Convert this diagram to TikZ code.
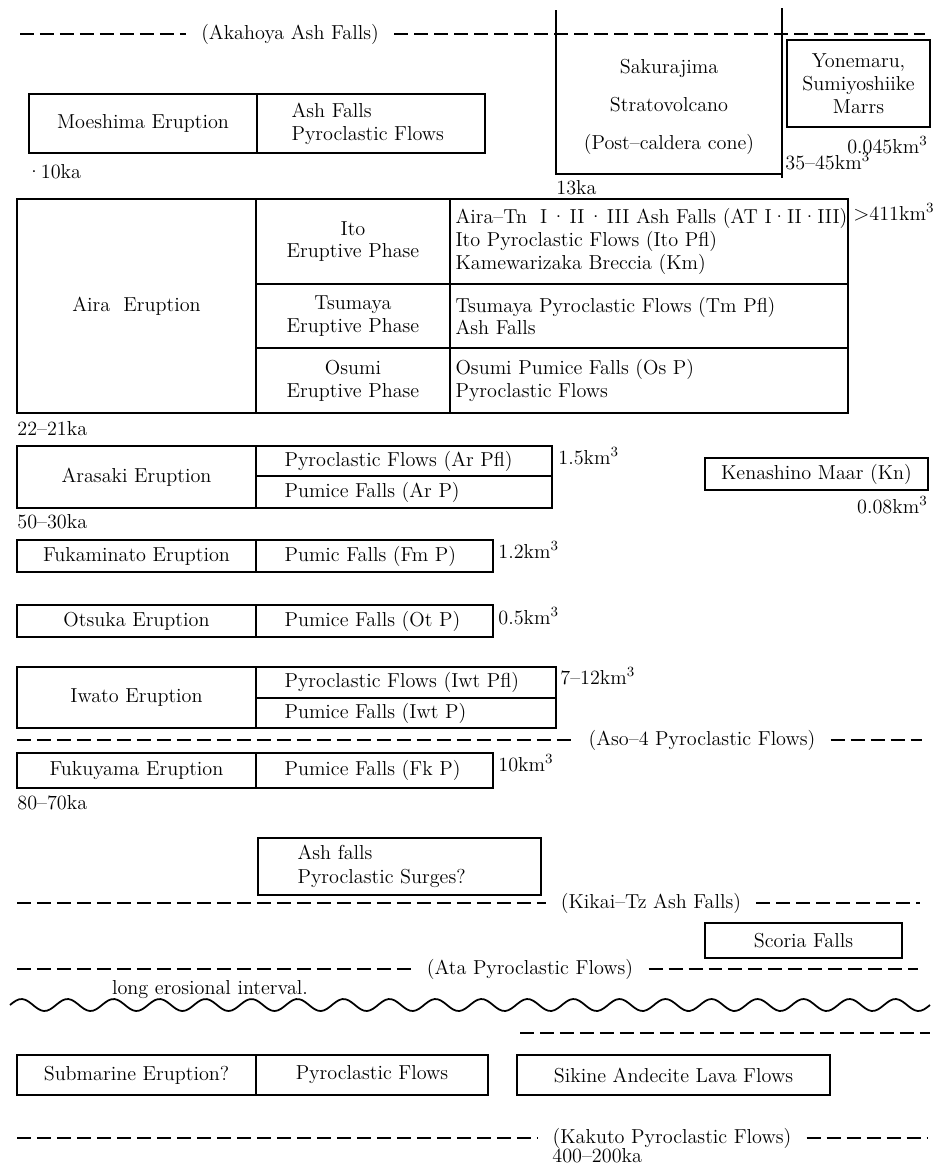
\documentclass[tikz,border=0pt]{standalone}
\usetikzlibrary{positioning,fit}
\tikzset{
  cellbox/.style={draw, line width=0.9pt, inner sep=0pt},
  celltext/.style={align=center, inner sep=0pt},
  deptext/.style={inner sep=0pt, align=left, anchor=west},
  ashline/.style={dash pattern=on 0.28cm off 0.12cm, line width=1pt},
  ashlabel/.style={inner xsep=0.3cm},
  marker/.style={inner sep=0pt},
}
\newcommand{\ndot}{\hspace{2pt}\textperiodcentered\hspace{2pt}}
\begin{document}
\begin{tikzpicture}[x=0.02cm, y=-0.02cm, every node/.style={font=\fontsize{11.5}{13}\selectfont}]
    \useasboundingbox (0,0) rectangle (938,1173);

    % Akahoya
    \node[ashlabel] (aka) at (290,34) {(Akahoya Ash Falls)};
    \draw[ashline] (20,34) -- (aka.west);
    \draw[ashline] (aka.east) -- (925,34);

    % Sakurajima
    \draw[line width=0.9pt] (556,10) -- (556,174) -- (782,174);
    \draw[line width=0.9pt] (782,8) -- (782,178);
    \node[align=center] (sak) at (669,107) {Sakurajima\\[8.5pt]Stratovolcano\\[8.5pt](Post--caldera cone)};
    \node[marker, anchor=west] (t13) at (556,188) {13ka};
    \node[marker, anchor=west] (vsak) at (785,161) {35--45km$^3$};

    % Yonemaru
    \node[cellbox, fit={(787,40) (930,127)}, label={[celltext]center:{Yonemaru,\\Sumiyoshiike\\Marrs}}] (yon) {};
    \node[marker, anchor=east] (vyon) at (928,145) {0.045km$^3$};

    % Moeshima
    \node[cellbox, fit={(29,94) (257,153)}, label={[celltext]center:Moeshima Eruption}] (moe) {};
    \node[cellbox, fit={(257,94) (485,153)}] (moedep) {};
    \node[deptext, right=0.7cm of moedep.west] {Ash Falls\\Pyroclastic Flows};
    \node[marker, anchor=west] (t10) at (26,172) {\textperiodcentered\kern-0.5pt10ka};

    % Aira
    \node[cellbox, fit={(17,199) (256,413)}, label={[celltext]center:Aira\ \ Eruption}] (aira) {};
    \node[cellbox, fit={(256,199) (450,284)}, label={[celltext]center:{Ito\\Eruptive Phase}}] (ito) {};
    \node[cellbox, fit={(450,199) (848,284)}] (itodep) {};
    \node[deptext, right=0.12cm of itodep.west] {Aira--Tn\ \ I\ndot II\ndot III Ash Falls (AT I\textperiodcentered II\textperiodcentered III)\\Ito Pyroclastic Flows (Ito Pfl)\\Kamewarizaka Breccia (Km)};
    \node[cellbox, fit={(256,284) (450,348)}, label={[celltext]center:{Tsumaya\\Eruptive Phase}}] (tsu) {};
    \node[cellbox, fit={(450,284) (848,348)}] (tsudep) {};
    \node[deptext, right=0.12cm of tsudep.west] {Tsumaya Pyroclastic Flows (Tm Pfl)\\Ash Falls};
    \node[cellbox, fit={(256,348) (450,413)}, label={[celltext]center:{Osumi\\Eruptive Phase}}] (osu) {};
    \node[cellbox, fit={(450,348) (848,413)}] (osudep) {};
    \node[deptext, right=0.12cm of osudep.west] {Osumi Pumice Falls (Os P)\\Pyroclastic Flows};
    \node[marker, anchor=west] (vaira) at (853,212) {$>$411km$^3$};
    \node[marker, anchor=west] (t22) at (17,429) {22--21ka};

    % Arasaki
    \node[cellbox, fit={(17,446) (256,508)}, label={[celltext]center:Arasaki Eruption}] (ara) {};
    \node[cellbox, fit={(256,446) (552,476)}] (arapfl) {};
    \node[cellbox, fit={(256,476) (552,508)}] (arap) {};
    \node[deptext, right=0.58cm of arapfl.west] {Pyroclastic Flows (Ar Pfl)};
    \node[deptext, right=0.58cm of arap.west] {Pumice Falls (Ar P)};
    \node[marker, anchor=west] (vara) at (558,456) {1.5km$^3$};
    \node[marker, anchor=west] (t50) at (17,522) {50--30ka};

    % Kenashino
    \node[cellbox, fit={(705,458) (928,490)}, label={[celltext]center:Kenashino Maar (Kn)}] (ken) {};
    \node[marker, anchor=east] (vken) at (928,505) {0.08km$^3$};

    % Fukaminato
    \node[cellbox, fit={(17,540) (256,572)}, label={[celltext]center:Fukaminato Eruption}] (fuka) {};
    \node[cellbox, fit={(256,540) (493,572)}] (fukap) {};
    \node[deptext, right=0.58cm of fukap.west] {Pumic Falls (Fm P)};
    \node[marker, anchor=west] (vfuka) at (498,550) {1.2km$^3$};

    % Otsuka
    \node[cellbox, fit={(17,605) (256,637)}, label={[celltext]center:Otsuka Eruption}] (ots) {};
    \node[cellbox, fit={(256,605) (493,637)}] (otsp) {};
    \node[deptext, right=0.58cm of otsp.west] {Pumice Falls (Ot P)};
    \node[marker, anchor=west] (vots) at (498,616) {0.5km$^3$};

    % Iwato
    \node[cellbox, fit={(17,667) (256,728)}, label={[celltext]center:Iwato Eruption}] (iwa) {};
    \node[cellbox, fit={(256,667) (556,698)}] (iwapfl) {};
    \node[cellbox, fit={(256,698) (556,728)}] (iwap) {};
    \node[deptext, right=0.58cm of iwapfl.west] {Pyroclastic Flows (Iwt Pfl)};
    \node[deptext, right=0.58cm of iwap.west] {Pumice Falls (Iwt P)};
    \node[marker, anchor=west] (viwa) at (560,676) {7--12km$^3$};

    % Aso-4
    \node[ashlabel] (aso) at (702,740) {(Aso--4 Pyroclastic Flows)};
    \draw[ashline] (17,740) -- (aso.west);
    \draw[ashline] (aso.east) -- (922,740);

    % Fukuyama
    \node[cellbox, fit={(17,753) (256,788)}, label={[celltext]center:Fukuyama Eruption}] (fuku) {};
    \node[cellbox, fit={(256,753) (493,788)}] (fukup) {};
    \node[deptext, right=0.58cm of fukup.west] {Pumice Falls (Fk P)};
    \node[marker, anchor=west] (vfuku) at (498,763) {10km$^3$};
    \node[marker, anchor=west] (t80) at (17,803) {80--70ka};

    % Ash falls, surges
    \node[cellbox, fit={(258,838) (541,895)}] (surge) {};
    \node[deptext, right=0.8cm of surge.west] {Ash falls\\[1pt]Pyroclastic Surges?};

    % Kikai-Tz
    \node[ashlabel] (kik) at (651,903) {(Kikai--Tz Ash Falls)};
    \draw[ashline] (17,903) -- (kik.west);
    \draw[ashline] (kik.east) -- (920,903);

    % Scoria
    \node[cellbox, fit={(705,923) (902,958)}, label={[celltext]center:Scoria Falls}] (sco) {};

    % Ata
    \node[ashlabel] (ata) at (530,969) {(Ata Pyroclastic Flows)};
    \draw[ashline] (17,969) -- (ata.west);
    \draw[ashline] (ata.east) -- (918,969);
    \node (ero) at (210,990) {long erosional interval.};

    % unconformity
    \draw[line width=1pt, domain=10:930, samples=300, smooth] plot (\x, {1005-6*sin(7.8261*(\x-10))});
    \draw[ashline] (520,1033) -- (930,1033);

    % Submarine, Sikine
    \node[cellbox, fit={(17,1055) (256,1095)}, label={[celltext]center:Submarine Eruption?}] (sub) {};
    \node[cellbox, fit={(256,1055) (488,1095)}, label={[celltext]center:Pyroclastic Flows}] (subpfl) {};
    \node[cellbox, fit={(517,1055) (830,1095)}, label={[celltext]center:Sikine Andecite Lava Flows}] (sik) {};

    % Kakuto
    \node[ashlabel] (kak) at (672,1138) {(Kakuto Pyroclastic Flows)};
    \draw[ashline] (17,1138) -- (kak.west);
    \draw[ashline] (kak.east) -- (927,1138);
    \node[marker, anchor=west] (t400) at (552,1156) {400--200ka};
\end{tikzpicture}
\end{document}
